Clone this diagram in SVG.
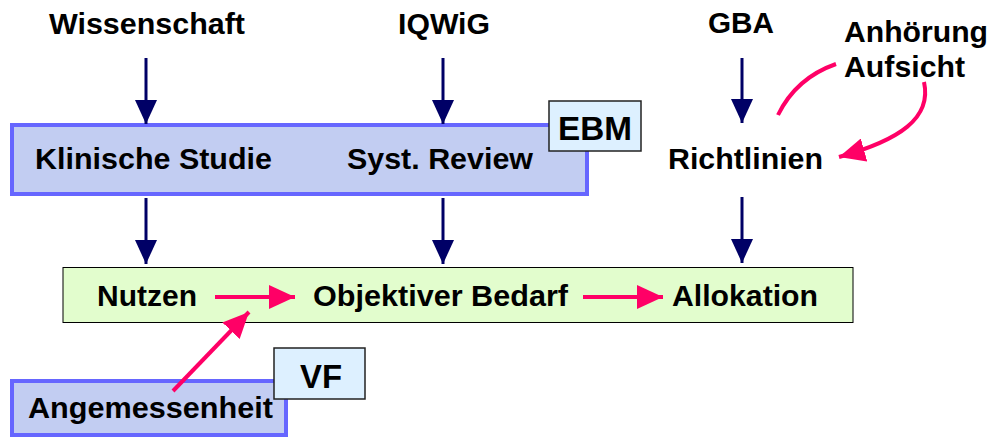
<svg xmlns="http://www.w3.org/2000/svg" width="993" height="438" viewBox="0 0 993 438">
<style>
text{font-family:"Liberation Sans",Arial,sans-serif;font-weight:bold;fill:#000}
.t{font-size:29px}
.b{font-size:33px}
.navy{stroke:#000066;stroke-width:3;fill:none}
.pink{stroke:#FF0066;stroke-width:4;fill:none}
.blue{fill:#C2CDF2;stroke:#6666FF;stroke-width:4}
.tag{fill:#DDF0FF;stroke:#222;stroke-width:1.5}
</style>
<defs>
<marker id="an" markerUnits="userSpaceOnUse" markerWidth="24" markerHeight="22" refX="24" refY="11" orient="auto"><path d="M0,0 L24,11 L0,22 z" fill="#000066"/></marker>
<marker id="ap" markerUnits="userSpaceOnUse" markerWidth="26" markerHeight="24" refX="26" refY="12" orient="auto"><path d="M0,0 L26,12 L0,24 z" fill="#FF0066"/></marker>
</defs>
<g id="wissenschaft"><text class="t" x="49" y="34" textLength="196" lengthAdjust="spacingAndGlyphs">Wissenschaft</text></g>
<g id="iqwig"><text class="t" x="398" y="34" textLength="92" lengthAdjust="spacingAndGlyphs">IQWiG</text></g>
<g id="gba"><text class="t" x="708" y="33" textLength="66" lengthAdjust="spacingAndGlyphs">GBA</text></g>
<g id="anhoerung"><text class="t" x="844" y="42" textLength="144" lengthAdjust="spacingAndGlyphs">Anhörung</text><text class="t" x="844" y="77" textLength="121" lengthAdjust="spacingAndGlyphs">Aufsicht</text></g>
<g id="ebm-box"><rect class="blue" x="12" y="125" width="575" height="69"/>
<text class="t" x="35" y="169" textLength="237" lengthAdjust="spacingAndGlyphs">Klinische Studie</text>
<text class="t" x="347" y="169" textLength="186" lengthAdjust="spacingAndGlyphs">Syst. Review</text></g>
<g id="ebm"><rect class="tag" x="549" y="101" width="92" height="50"/><text class="b" x="558" y="140" textLength="74" lengthAdjust="spacingAndGlyphs">EBM</text></g>
<g id="richtlinien"><text class="t" x="668" y="169" textLength="155" lengthAdjust="spacingAndGlyphs">Richtlinien</text></g>
<g id="green"><rect x="63" y="267.5" width="790" height="55" fill="#E2FDCD" stroke="#000" stroke-width="1"/>
<text class="t" x="97" y="306" textLength="100" lengthAdjust="spacingAndGlyphs">Nutzen</text>
<text class="t" x="313" y="306" textLength="255" lengthAdjust="spacingAndGlyphs">Objektiver Bedarf</text>
<text class="t" x="672" y="306" textLength="146" lengthAdjust="spacingAndGlyphs">Allokation</text></g>
<g id="angemessenheit"><rect class="blue" x="12" y="381" width="274" height="54"/><text class="t" x="28" y="418" textLength="245" lengthAdjust="spacingAndGlyphs">Angemessenheit</text></g>
<g id="vf"><rect class="tag" x="274" y="348" width="91" height="51"/><text class="b" x="300" y="388" textLength="42" lengthAdjust="spacingAndGlyphs">VF</text></g>
<g id="connectors">
<line class="navy" x1="146" y1="58" x2="146" y2="124" marker-end="url(#an)"/>
<line class="navy" x1="443" y1="58" x2="443" y2="124" marker-end="url(#an)"/>
<line class="navy" x1="742" y1="58" x2="742" y2="123" marker-end="url(#an)"/>
<line class="navy" x1="146" y1="198" x2="146" y2="264" marker-end="url(#an)"/>
<line class="navy" x1="443" y1="198" x2="443" y2="264" marker-end="url(#an)"/>
<line class="navy" x1="742" y1="197" x2="742" y2="263" marker-end="url(#an)"/>
<line class="pink" x1="215" y1="297" x2="295" y2="297" marker-end="url(#ap)"/>
<line class="pink" x1="583" y1="297" x2="663" y2="297" marker-end="url(#ap)"/>
<line class="pink" x1="173" y1="391" x2="249" y2="312" marker-end="url(#ap)"/>
<path class="pink" d="M778,115 Q796,78 836,64"/>
<path class="pink" d="M924,82 C932,118 900,140 839,157" marker-end="url(#ap)"/>
</g>
</svg>
